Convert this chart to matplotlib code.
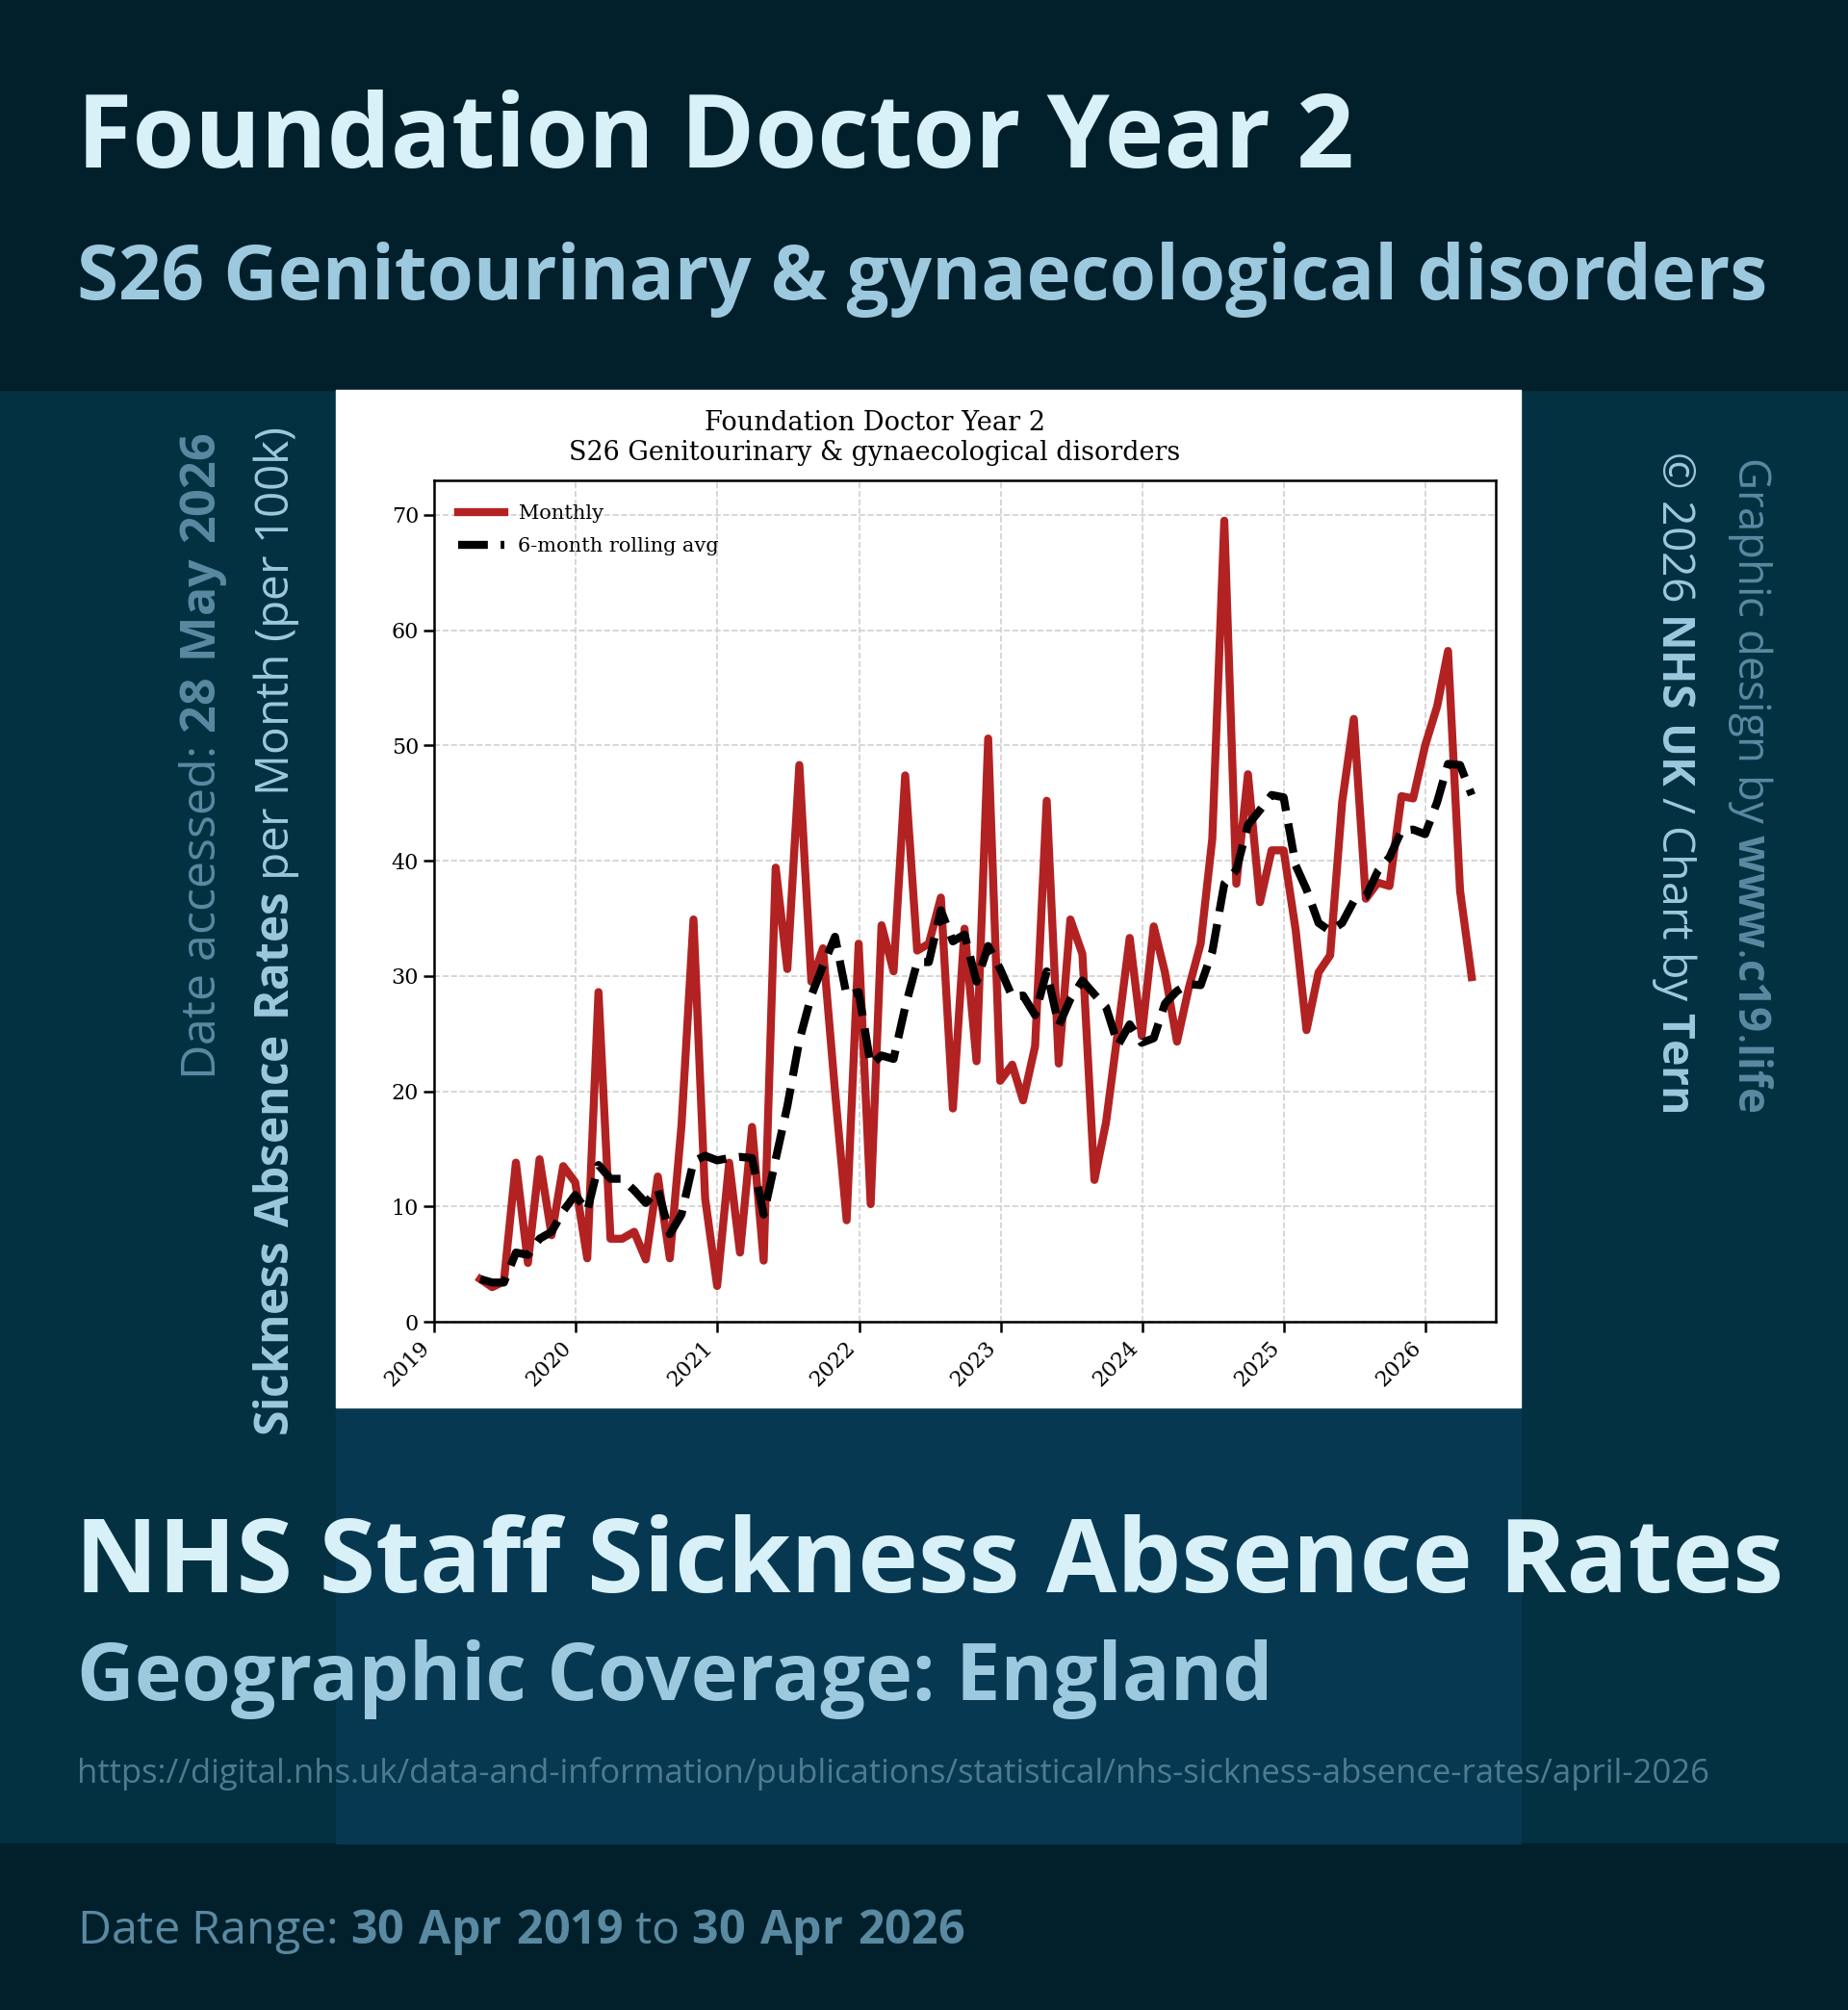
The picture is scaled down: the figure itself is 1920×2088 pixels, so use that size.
import matplotlib
matplotlib.use('Agg')
import matplotlib.pyplot as plt
import matplotlib.dates as mdates
from matplotlib.patches import Rectangle
import pandas as pd

W, H = 1920, 2088

# monthly figures, end of month, Apr 2019 .. Apr 2026
months = pd.date_range('2019-04-30', periods=85, freq='ME')
monthly = [3.7, 3.0, 3.5, 13.8, 5.1, 14.1, 7.5, 13.5, 12.1, 5.5,
           28.6, 7.2, 7.2, 7.8, 5.4, 12.6, 5.5, 17.0, 34.9, 10.7,
           3.1, 13.8, 6.0, 16.9, 5.3, 39.4, 30.6, 48.3, 29.5, 32.4,
           20.0, 8.8, 32.8, 10.2, 34.4, 30.4, 47.4, 32.2, 32.8, 36.8,
           18.5, 34.1, 22.6, 50.6, 20.9, 22.3, 19.2, 23.9, 45.2, 22.4,
           34.9, 31.9, 12.3, 17.3, 25.3, 33.3, 24.8, 34.3, 30.3, 24.3,
           28.9, 32.8, 41.9, 69.5, 38.0, 47.5, 36.4, 40.9, 40.9, 34.0,
           25.3, 30.3, 31.8, 45.1, 52.3, 36.7, 38.1, 37.8, 45.6, 45.4,
           50.0, 53.4, 58.2, 37.4, 29.9]
rolling_avg = [3.7, 3.4, 3.4, 6.0, 5.8, 7.2, 7.8, 9.6, 11.0, 9.6,
               13.6, 12.4, 12.4, 11.4, 10.3, 11.5, 7.6, 9.3, 13.9, 14.4,
               14.0, 14.2, 14.3, 14.2, 9.3, 14.1, 18.7, 24.4, 28.3, 30.9,
               33.4, 28.3, 28.6, 22.3, 23.1, 22.8, 27.3, 31.2, 31.2, 35.7,
               33.0, 33.6, 29.5, 32.6, 30.6, 28.2, 28.3, 26.6, 30.4, 25.7,
               28.0, 29.6, 28.4, 27.3, 24.0, 25.8, 24.2, 24.6, 27.6, 28.7,
               29.3, 29.2, 32.1, 38.0, 39.2, 43.1, 44.4, 45.7, 45.5, 39.6,
               37.5, 34.6, 33.9, 34.6, 36.5, 36.9, 39.1, 40.3, 42.6, 42.7,
               42.3, 45.1, 48.4, 48.3, 45.7]
year_ticks = pd.date_range('2019-01-01', '2026-01-01', freq='YS')
y_ticks = [0, 10, 20, 30, 40, 50, 60, 70]

DARK = '#01202b'
MID = '#033141'
PANEL = '#073852'
LIGHT = '#d8f0f8'
SOFT = '#9dc9df'
MUTED = '#5a89a2'
URLC = '#4f7b92'
RED = '#b22222'

plt.rcParams['mathtext.fontset'] = 'custom'
plt.rcParams['mathtext.rm'] = 'Open Sans'
plt.rcParams['mathtext.bf'] = 'Open Sans:bold'

fig = plt.figure(figsize=(W / 100, H / 100), dpi=100)
fig.patch.set_facecolor(MID)
renderer = fig.canvas.get_renderer()


def box(x0, y0, x1, y1, color, z):
    fig.patches.append(Rectangle((x0 / W, 1 - y1 / H), (x1 - x0) / W, (y1 - y0) / H,
                                 transform=fig.transFigure, color=color, zorder=z))


def fit(t, target, vertical=False):
    # scale font so the text spans the wanted number of pixels
    for _ in range(2):
        bb = t.get_window_extent(renderer)
        size = bb.height if vertical else bb.width
        t.set_fontsize(t.get_fontsize() * target / size)


def put(x, y, s, target, vertical=False, **kw):
    t = fig.text(x / W, 1 - y / H, s, **kw)
    fit(t, target, vertical)
    return t


box(0, 0, W, 405, DARK, -3)
box(0, 1915, W, H, DARK, -3)
box(349, 1462, 1580, 1915, PANEL, -2)
box(349, 405, 1580, 1462, 'white', -2)

# headline texts
put(80, 174, 'Foundation Doctor Year 2', 1326, color=LIGHT, fontsize=70,
    family='Open Sans', fontweight='bold', ha='left', va='baseline')
put(80, 311, 'S26 Genitourinary & gynaecological disorders', 1757, color=SOFT,
    fontsize=50, family='Open Sans', fontweight='bold', ha='left', va='baseline')
put(78, 1654, 'NHS Staff Sickness Absence Rates', 1775, color=LIGHT, fontsize=70,
    family='Open Sans', fontweight='bold', ha='left', va='baseline')
put(80, 1766, 'Geographic Coverage: England', 1242, color=SOFT, fontsize=50,
    family='Open Sans', fontweight='bold', ha='left', va='baseline')
put(80, 1852, 'https://digital.nhs.uk/data-and-information/publications/statistical/'
    'nhs-sickness-absence-rates/april-2026', 1695, color=URLC, fontsize=20,
    family='Open Sans', ha='left', va='baseline')
put(80, 2019, r'Date Range: $\mathbf{30\ Apr\ 2019}$ to $\mathbf{30\ Apr\ 2026}$', 922,
    color=MUTED, fontsize=30, family='Open Sans', ha='left', va='baseline')

# side texts
put(224, 450, r'Date accessed: $\mathbf{28\ May\ 2026}$', 672, vertical=True,
    color=MUTED, fontsize=30, family='Open Sans', rotation=90,
    rotation_mode='anchor', ha='right', va='baseline')
put(300, 443, r'$\mathbf{Sickness\ Absence\ Rates}$ per Month (per 100k)', 1048,
    vertical=True, color=SOFT, fontsize=30, family='Open Sans', rotation=90,
    rotation_mode='anchor', ha='right', va='baseline')
put(1727, 1156, r'© 2026 $\mathbf{NHS\ UK}$ / Chart by $\mathbf{Tern}$', 687,
    vertical=True, color=SOFT, fontsize=30, family='Open Sans', rotation=-90,
    rotation_mode='anchor', ha='right', va='baseline')
put(1806, 1156, r'Graphic design by $\mathbf{www}$.$\mathbf{c19}$.$\mathbf{life}$', 681,
    vertical=True, color=MUTED, fontsize=30, family='Open Sans', rotation=-90,
    rotation_mode='anchor', ha='right', va='baseline')

# chart title
put(909, 447, 'Foundation Doctor Year 2', 356, color='black', fontsize=18,
    family='DejaVu Serif', ha='center', va='baseline')
put(909, 478, 'S26 Genitourinary & gynaecological disorders', 635, color='black',
    fontsize=18, family='DejaVu Serif', ha='center', va='baseline')

ax = fig.add_axes([451 / W, 1 - 1373 / H, (1554 - 451) / W, (1373 - 499) / H])
ax.set_facecolor('white')
ax.plot(months, monthly, color=RED, lw=6, label='Monthly')
ax.plot(months, rolling_avg, color='black', lw=6, ls='--', label='6-month rolling avg')
ax.set_xlim(pd.Timestamp('2019-01-01'), pd.Timestamp('2026-07-01'))
ax.set_ylim(0, 73)
ax.set_xticks(year_ticks)
ax.xaxis.set_major_formatter(mdates.DateFormatter('%Y'))
ax.set_yticks(y_ticks)
ax.grid(True, ls='--', color='#d0d0d0', lw=1.2)
ax.set_axisbelow(True)
for s in ax.spines.values():
    s.set_linewidth(1.8)
ax.tick_params(length=8, width=1.8, labelsize=16)
for lab in ax.get_xticklabels() + ax.get_yticklabels():
    lab.set_family('DejaVu Serif')
for lab in ax.get_xticklabels():
    lab.set_rotation(45)
    lab.set_ha('right')
ax.legend(loc='upper left', frameon=False, prop={'family': 'DejaVu Serif', 'size': 15},
          handlelength=2.3, handletextpad=0.7, labelspacing=0.72, borderaxespad=0.8)

fig.savefig('out.png', dpi=100, facecolor=fig.get_facecolor())
